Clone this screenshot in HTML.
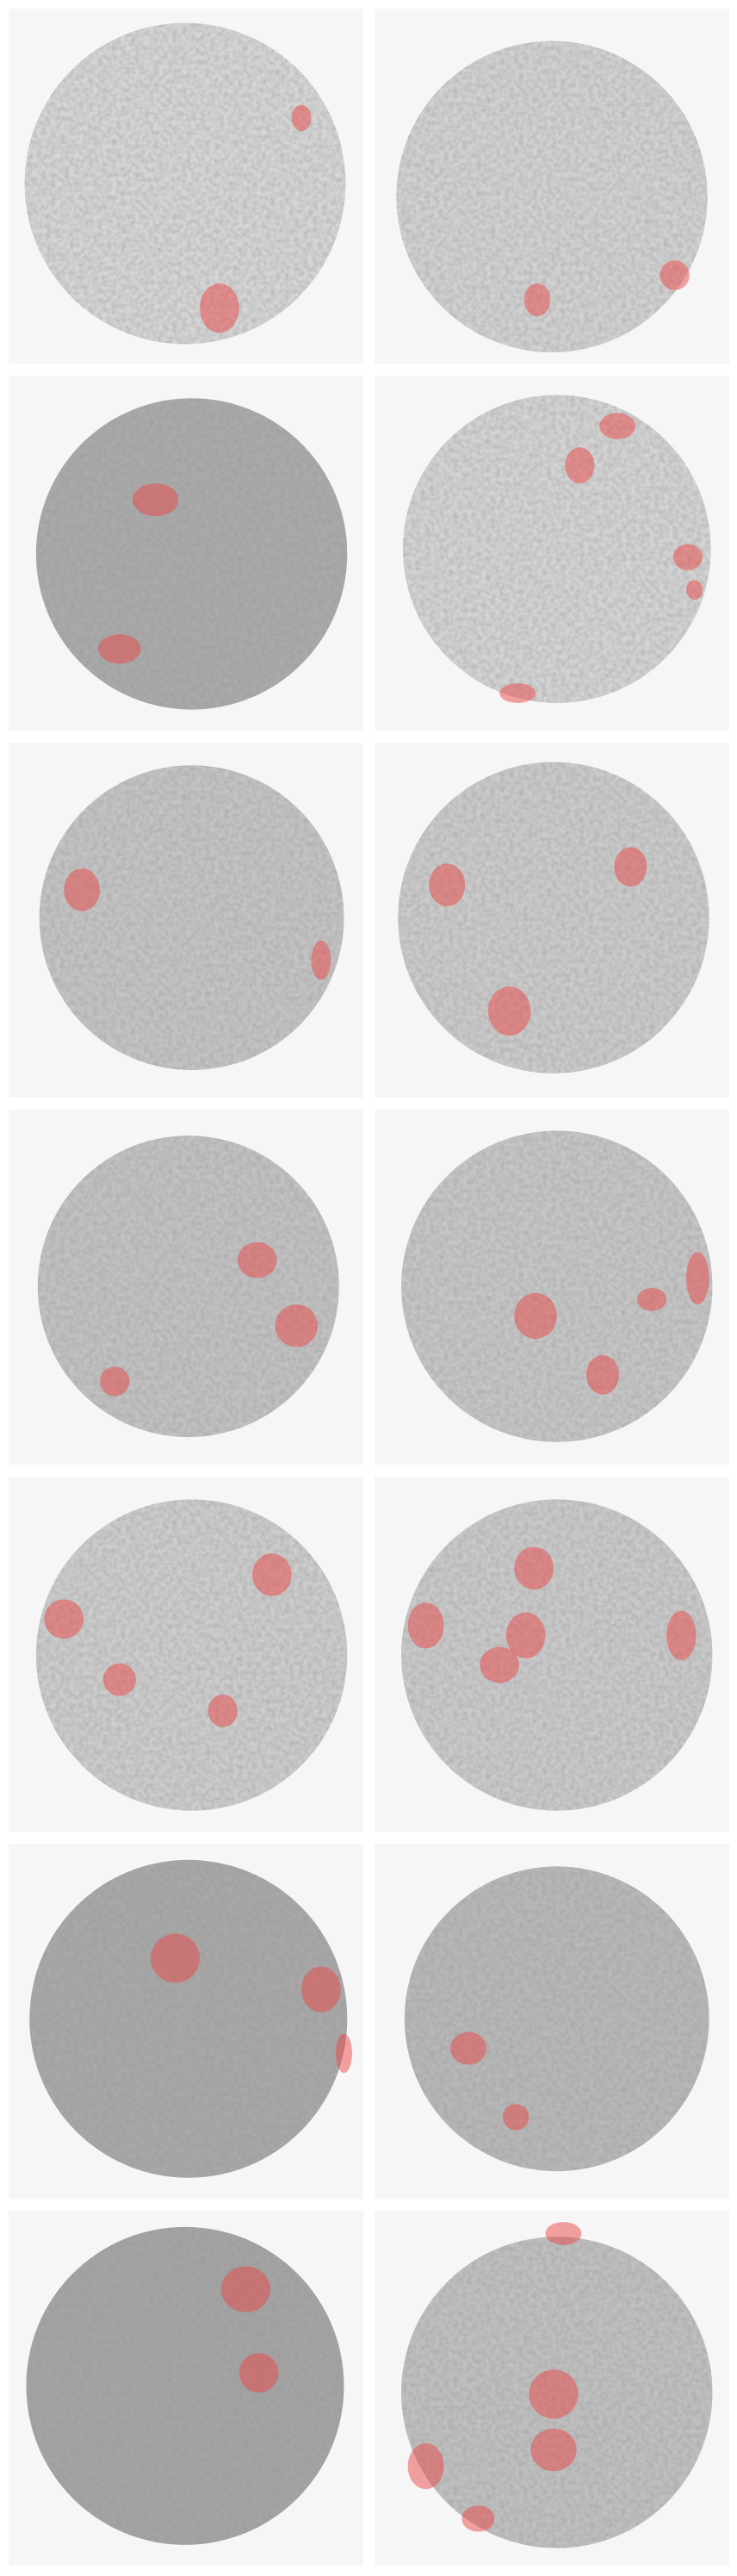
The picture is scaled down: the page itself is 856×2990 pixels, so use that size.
<!DOCTYPE html>
<html><head><meta charset="utf-8"><style>
html,body{margin:0;padding:0;background:#fff;width:856px;height:2990px;overflow:hidden}
svg{display:block}
</style></head><body>
<svg id="s" width="856" height="2990" viewBox="0 0 450 1572" xmlns="http://www.w3.org/2000/svg">
<defs>
<filter id="tex" x="0" y="0" width="100%" height="100%">
<feTurbulence type="fractalNoise" baseFrequency="0.35" numOctaves="2" seed="3"/>
<feColorMatrix type="matrix" values="0 0 0 0 0.3  0 0 0 0 0.3  0 0 0 0 0.3  0 0 0 -1.4 1.0"/>
</filter>
</defs>
</svg>
<script>
// panel tissue: [cx, cy, r, shade]
const cores = [
 [113,112,98,'#d6d6d6'],[337,120,95,'#d2d2d2'],
 [117,338,95,'#aaaaaa'],[340,335,94,'#d4d4d4'],
 [117,560,93,'#c4c4c4'],[338,560,95,'#cbcbcb'],
 [115,785,92,'#c2c2c2'],[340,785,95,'#c6c6c6'],
 [117,1010,95,'#cdcdcd'],[340,1010,95,'#cacaca'],
 [115,1232,97,'#a8a8a8'],[340,1232,93,'#b8b8b8'],
 [113,1456,97,'#a4a4a4'],[340,1460,95,'#c0c0c0']
];
// glomeruli blobs: [cx, cy, rx, ry]
const blobs = [
 [[184,72,6,8],[134,188,12,15]],
 [[328,183,8,10],[412,168,9,9]],
 [[95,305,14,10],[73,396,13,9]],
 [[354,284,9,11],[377,260,11,8],[420,340,9,8],[424,360,5,6],[316,423,11,6]],
 [[50,543,11,13],[196,586,6,12]],
 [[273,540,11,13],[385,529,10,12],[311,617,13,15]],
 [[157,769,12,11],[181,809,13,13],[70,843,9,9]],
 [[327,803,13,14],[368,839,10,12],[398,793,9,7],[426,780,7,16]],
 [[166,961,12,13],[39,988,12,12],[73,1025,10,10],[136,1044,9,10]],
 [[326,957,12,13],[260,992,11,14],[321,998,12,14],[305,1016,12,11],[416,998,9,15]],
 [[107,1195,15,15],[196,1214,12,14],[210,1253,5,12]],
 [[286,1250,11,10],[315,1292,8,8]],
 [[150,1397,15,14],[158,1448,12,12]],
 [[344,1363,11,7],[338,1461,15,15],[338,1495,14,13],[260,1505,11,14],[292,1537,10,8]]
];
const svg=document.getElementById('s');
const NS='http://www.w3.org/2000/svg';
cores.forEach((c,i)=>{
  const col=i%2, row=Math.floor(i/2);
  const px=col?228.7:5.26, py=5.26+row*224;
  const g=document.createElementNS(NS,'g');
  
  
  const bg=document.createElementNS(NS,'rect');
  bg.setAttribute('x',px);bg.setAttribute('y',py);bg.setAttribute('width',216.6);bg.setAttribute('height',216.6);
  bg.setAttribute('fill','#f6f6f6');
  
  
  g.appendChild(bg);
  const cc=document.createElementNS(NS,'circle');
  cc.setAttribute('cx',c[0]);cc.setAttribute('cy',c[1]);cc.setAttribute('r',c[2]);cc.setAttribute('fill',c[3]);
  
  
  g.appendChild(cc);
  const cp=document.createElementNS(NS,'clipPath');cp.setAttribute('id','cp'+i);
  const cc2=cc.cloneNode();cp.appendChild(cc2);g.appendChild(cp);
  const tx=document.createElementNS(NS,'rect');
  tx.setAttribute('x',c[0]-c[2]);tx.setAttribute('y',c[1]-c[2]);tx.setAttribute('width',2*c[2]);tx.setAttribute('height',2*c[2]);
  tx.setAttribute('filter','url(#tex)');tx.setAttribute('clip-path','url(#cp'+i+')');tx.setAttribute('opacity','0.5');
  
  
  g.appendChild(tx);
  blobs[i].forEach(b=>{
    const e=document.createElementNS(NS,'ellipse');
    e.setAttribute('cx',b[0]);e.setAttribute('cy',b[1]);e.setAttribute('rx',b[2]);e.setAttribute('ry',b[3]);
    e.setAttribute('fill','rgba(235,70,70,0.5)');
    
    
    g.appendChild(e);
  });
  svg.appendChild(g);
});
</script>
</body></html>
